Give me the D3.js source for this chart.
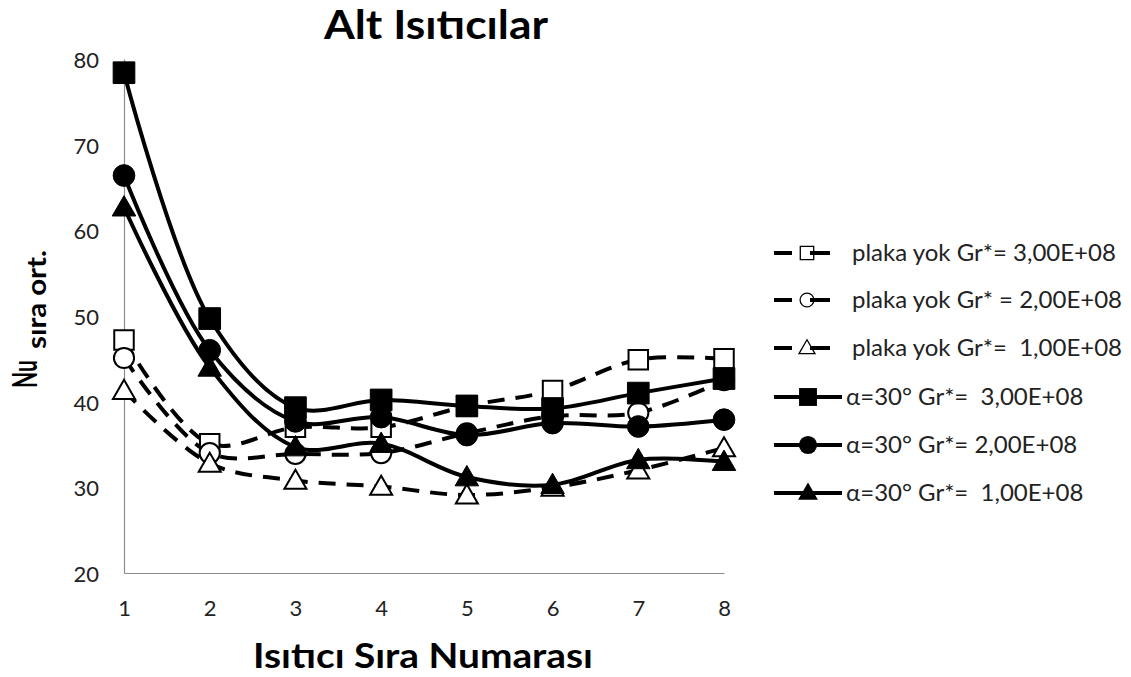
<!DOCTYPE html>
<html>
<head>
<meta charset="utf-8">
<script src="https://cdn.jsdelivr.net/npm/d3@7"></script>
<style>
  body { margin: 0; background: #fff; }
  text { font-family: Lato, "Open Sans", sans-serif; }
</style>
</head>
<body>
<svg id="drawing_region"></svg>
<script>
// heater row numbers
const rows = [1, 2, 3, 4, 5, 6, 7, 8];
const yTicks = [20, 30, 40, 50, 60, 70, 80];

// no plate (dashed, open markers)
const noPlate3 = [47.2, 35.1, 37.0, 37.0, 39.5, 41.3, 44.9, 45.0];
const noPlate2 = [45.1, 34.0, 33.9, 34.0, 36.3, 38.3, 38.7, 42.5];
const noPlate1 = [41.3, 32.8, 30.8, 30.1, 29.1, 30.0, 32.0, 34.6];
// alpha = 30 deg (solid, filled markers)
const alpha3 = [78.4, 49.7, 39.3, 40.2, 39.5, 39.2, 41.0, 42.7];
const alpha2 = [66.4, 46.0, 37.7, 38.2, 36.1, 37.5, 37.1, 37.9];
const alpha1 = [62.7, 44.0, 34.7, 35.1, 31.2, 30.3, 33.2, 33.0];

const seriesNames = [
  "plaka yok Gr*= 3,00E+08",
  "plaka yok Gr* = 2,00E+08",
  "plaka yok Gr*=  1,00E+08",
  "α=30° Gr*=  3,00E+08",
  "α=30° Gr*= 2,00E+08",
  "α=30° Gr*=  1,00E+08"
];

const series = [
  { name: seriesNames[0], values: noPlate3, shape: "square", filled: false, dashed: true },
  { name: seriesNames[1], values: noPlate2, shape: "circle", filled: false, dashed: true },
  { name: seriesNames[2], values: noPlate1, shape: "triangle", filled: false, dashed: true },
  { name: seriesNames[3], values: alpha3, shape: "square", filled: true, dashed: false },
  { name: seriesNames[4], values: alpha2, shape: "circle", filled: true, dashed: false },
  { name: seriesNames[5], values: alpha1, shape: "triangle", filled: true, dashed: false }
];

const width = 1131, height = 677;
const margin = { top: 59, left: 124, right: 407, bottom: 104 };
const innerW = width - margin.left - margin.right;
const innerH = height - margin.top - margin.bottom;

const svg = d3.select("#drawing_region")
  .attr("width", width)
  .attr("height", height);

const chart = svg.append("g")
  .attr("transform", `translate(${margin.left}, ${margin.top})`);

const x = d3.scaleLinear().domain([1, 8]).range([0, innerW]);
const y = d3.scaleLinear().domain([20, 80]).range([innerH, 0]);

// axes
const xAxis = d3.axisBottom(x).tickValues(rows).tickSize(0).tickPadding(27).tickFormat(d3.format("d"));
const yAxis = d3.axisLeft(y).tickValues(yTicks).tickSize(0).tickPadding(25);

const xg = chart.append("g").attr("transform", `translate(0, ${innerH})`).call(xAxis);
const yg = chart.append("g").call(yAxis);
[xg, yg].forEach(g => {
  g.select(".domain").attr("stroke", "#8c8c8c").attr("stroke-width", 1.2);
  g.selectAll("text").attr("font-size", "22px").attr("fill", "#222")
    .style("font-family", "Lato, 'Open Sans', sans-serif");
});
yg.selectAll("text").attr("dy", "0.38em");

function symType(shape) {
  return shape === "square" ? d3.symbolSquare : shape === "circle" ? d3.symbolCircle : d3.symbolTriangle;
}
const filledSize = { square: 470, circle: 370, triangle: 240 };
const openSize = { square: 380, circle: 320, triangle: 210 };

const line = d3.line()
  .x((d, i) => x(rows[i]))
  .y(d => y(d))
  .curve(d3.curveCatmullRom.alpha(0.5));

series.forEach(s => {
  chart.append("path")
    .datum(s.values)
    .attr("fill", "none")
    .attr("stroke", "#000")
    .attr("stroke-width", 4)
    .attr("stroke-dasharray", s.dashed ? "17,11" : null)
    .attr("d", line);
});

series.forEach(s => {
  const size = s.filled ? filledSize[s.shape] : openSize[s.shape];
  chart.append("g").selectAll("path")
    .data(s.values)
    .join("path")
    .attr("transform", (d, i) => `translate(${x(rows[i])}, ${y(d) + (s.shape === "triangle" ? 2 : 0)})`)
    .attr("d", d3.symbol().type(symType(s.shape)).size(size)())
    .attr("fill", s.filled ? "#000" : "#fff")
    .attr("stroke", "#000")
    .attr("stroke-width", s.filled ? 1 : 2);
});

// legend
const legend = svg.append("g");
const legendY = [253, 300, 348, 397, 445, 493];
series.forEach((s, i) => {
  const g = legend.append("g").attr("transform", `translate(0, ${legendY[i]})`);
  if (s.dashed) {
    g.append("line").attr("x1", 774).attr("x2", 792).attr("y1", 0).attr("y2", 0)
      .attr("stroke", "#000").attr("stroke-width", 4);
    g.append("path").attr("transform", `translate(807, ${s.shape === "triangle" ? 1 : 0})`)
      .attr("d", d3.symbol().type(symType(s.shape)).size(s.shape === "square" ? 180 : s.shape === "circle" ? 150 : 110)())
      .attr("fill", "#fff").attr("stroke", "#000").attr("stroke-width", 1.3);
    g.append("line").attr("x1", 810).attr("x2", 830).attr("y1", 0).attr("y2", 0)
      .attr("stroke", "#000").attr("stroke-width", 4);
    g.append("text").attr("x", 852).attr("y", 0).attr("dy", "0.35em")
      .attr("font-size", "24px").attr("fill", "#222").style("white-space", "pre").text(s.name);
  } else {
    g.append("line").attr("x1", 774).attr("x2", 842).attr("y1", 0).attr("y2", 0)
      .attr("stroke", "#000").attr("stroke-width", 4);
    g.append("path").attr("transform", `translate(808, ${s.shape === "triangle" ? 1 : 0})`)
      .attr("d", d3.symbol().type(symType(s.shape)).size(s.shape === "square" ? 320 : s.shape === "circle" ? 260 : 170)())
      .attr("fill", "#000");
    g.append("text").attr("x", 846).attr("y", 0).attr("dy", "0.35em")
      .attr("font-size", "24px").attr("fill", "#222").style("white-space", "pre").text(s.name);
  }
});

// titles
svg.append("text")
  .attr("x", 436).attr("y", 39)
  .attr("text-anchor", "middle")
  .attr("font-size", "41px").attr("font-weight", "bold")
  .attr("textLength", 224).attr("lengthAdjust", "spacingAndGlyphs")
  .text("Alt Isıtıcılar");

svg.append("text")
  .attr("x", 423).attr("y", 668)
  .attr("text-anchor", "middle")
  .attr("font-size", "35px").attr("font-weight", "bold")
  .attr("textLength", 340).attr("lengthAdjust", "spacingAndGlyphs")
  .text("Isıtıcı Sıra Numarası");

// y label: "Nu" with subscript, rotated
svg.append("text")
  .attr("transform", "translate(37, 388) rotate(-90) scale(1, 1.6)")
  .attr("font-size", "22px").attr("font-weight", "bold")
  .attr("textLength", 28).attr("lengthAdjust", "spacingAndGlyphs")
  .text("Nu");
svg.append("text")
  .attr("transform", "translate(46, 349) rotate(-90)")
  .attr("font-size", "27px").attr("font-weight", "bold")
  .attr("textLength", 99).attr("lengthAdjust", "spacingAndGlyphs")
  .text("sıra ort.");
</script>
</body>
</html>
